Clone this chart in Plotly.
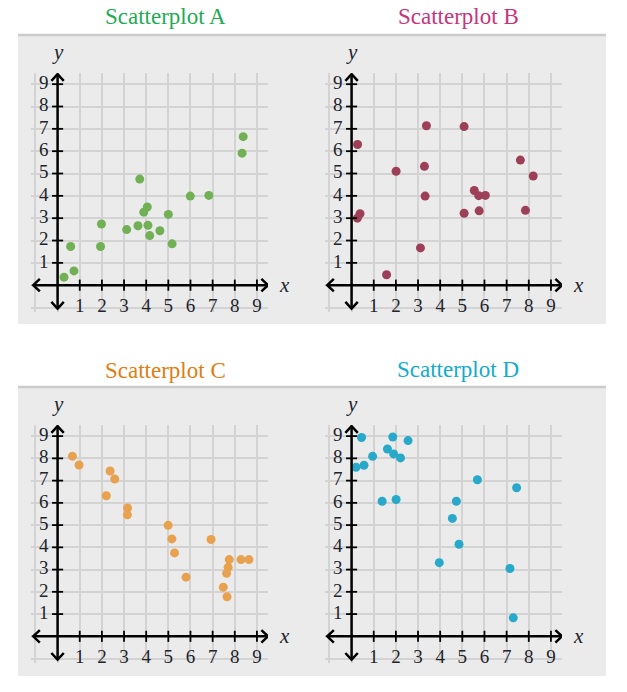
import plotly.graph_objects as go

# data
xa = [0.29, 0.59, 0.74, 1.98, 1.94, 3.12, 3.63, 3.71, 3.89, 4.05, 4.08, 4.16, 4.62, 5.0, 5.17, 5.99, 6.83, 8.38, 8.33]
ya = [0.36, 1.73, 0.64, 2.74, 1.73, 2.49, 2.66, 4.75, 3.27, 3.5, 2.68, 2.22, 2.44, 3.17, 1.85, 3.99, 4.02, 6.65, 5.91]

xb = [0.27, 0.26, 0.38, 1.58, 2.01, 3.11, 3.38, 3.29, 3.32, 5.08, 5.08, 5.54, 5.74, 6.04, 5.76, 7.62, 8.2, 7.85]
yb = [6.3, 3.0, 3.2, 0.47, 5.1, 1.67, 7.14, 5.32, 3.99, 7.1, 3.22, 4.24, 4.01, 4.02, 3.33, 5.6, 4.89, 3.35]

xc = [0.67, 0.97, 2.2, 2.37, 2.58, 3.16, 3.15, 4.99, 5.16, 5.28, 5.8, 6.93, 7.48, 7.65, 7.63, 7.7, 7.75, 8.28, 8.64]
yc = [8.1, 7.7, 6.32, 7.43, 7.07, 5.77, 5.46, 4.99, 4.38, 3.75, 2.66, 4.35, 2.21, 1.78, 2.83, 3.1, 3.45, 3.45, 3.45]

xd = [0.2, 0.45, 0.56, 0.95, 1.38, 1.62, 1.86, 1.9, 2.01, 2.21, 2.55, 3.96, 4.55, 4.73, 4.85, 5.68, 7.15, 7.3, 7.45]
yd = [7.6, 8.94, 7.69, 8.09, 6.07, 8.42, 8.96, 8.2, 6.15, 8.02, 8.8, 3.31, 5.3, 6.07, 4.14, 7.04, 3.05, 0.83, 6.68]

titles = ["Scatterplot A", "Scatterplot B", "Scatterplot C", "Scatterplot D"]
title_colors = ["#1fab54", "#ca337c", "#e07d10", "#11accd"]
dot_colors = ["#71b054", "#9d3f58", "#e8a24f", "#29a9c9"]
ticks = [1, 2, 3, 4, 5, 6, 7, 8, 9]

W, H = 627, 692
FONT = "Liberation Serif"
INK = "#21242c"
LO, HI = -1.2, 9.5

# plot areas in pixels (left, right, top, bottom)
boxes = [(31, 268, 73, 312), (325, 562, 73, 312), (31, 268, 425, 663), (325, 562, 425, 663)]
title_pos = [(165, 17), (458, 17), (165, 370), (458, 369)]

fig = go.Figure()
shapes = []
annotations = []


def frac(v):
    return (v - LO) / (HI - LO)


# grey panels with top rule
for top, bot in [(34, 324), (386, 676)]:
    shapes.append(dict(type="rect", xref="paper", yref="paper", layer="below",
                       x0=18 / W, x1=606 / W, y0=1 - bot / H, y1=1 - top / H,
                       fillcolor="#ebebeb", line_width=0))
    shapes.append(dict(type="line", xref="paper", yref="paper", layer="below",
                       x0=18 / W, x1=606 / W, y0=1 - (top + 1) / H, y1=1 - (top + 1) / H,
                       line=dict(color="#cccccc", width=2.5)))

series = [(xa, ya), (xb, yb), (xc, yc), (xd, yd)]
for i, (xs, ys) in enumerate(series):
    n = "" if i == 0 else str(i + 1)
    xr, yr = "x" + n, "y" + n
    l, r, t, b = boxes[i]
    ax = dict(domain=[l / W, r / W], range=[LO, HI], dtick=1, tick0=0,
              showgrid=True, gridcolor="#d3d3d3", gridwidth=2.2,
              zeroline=False, showticklabels=False, ticks="", fixedrange=True)
    fig.update_layout({"xaxis" + n: dict(ax, anchor=yr),
                       "yaxis" + n: dict(ax, domain=[1 - b / H, 1 - t / H], anchor=xr)})

    # axes with chevron arrows
    blk = dict(color="black", width=2.5)
    shapes.append(dict(type="line", xref=xr, yref=yr, x0=-1.1, x1=9.5, y0=0, y1=0, line=blk))
    shapes.append(dict(type="line", xref=xr, yref=yr, x0=0, x1=0, y0=-1.05, y1=9.45, line=blk))
    for p in ["M 9.2 0.28 L 9.5 0 L 9.2 -0.28", "M -0.8 0.28 L -1.1 0 L -0.8 -0.28",
              "M -0.28 9.15 L 0 9.45 L 0.28 9.15", "M -0.28 -0.75 L 0 -1.05 L 0.28 -0.75"]:
        shapes.append(dict(type="path", xref=xr, yref=yr, path=p, line=blk))
    for k in ticks:
        shapes.append(dict(type="line", xref=xr, yref=yr, x0=k, x1=k, y0=-0.25, y1=0.25,
                           line=dict(color="black", width=1.8)))
        shapes.append(dict(type="line", xref=xr, yref=yr, x0=-0.25, x1=0.25, y0=k, y1=k,
                           line=dict(color="black", width=1.8)))

    # tick labels
    fig.add_trace(go.Scatter(x=ticks, y=[-0.97] * len(ticks), mode="text",
                             text=[str(k) for k in ticks], cliponaxis=False,
                             textfont=dict(family=FONT, size=19, color=INK),
                             hoverinfo="skip", xaxis=xr, yaxis=yr, showlegend=False))
    fig.add_trace(go.Scatter(x=[-0.62] * len(ticks), y=ticks, mode="text",
                             text=[str(k) for k in ticks], cliponaxis=False,
                             textfont=dict(family=FONT, size=19, color=INK),
                             hoverinfo="skip", xaxis=xr, yaxis=yr, showlegend=False))

    # the points
    fig.add_trace(go.Scatter(x=xs, y=ys, mode="markers", xaxis=xr, yaxis=yr,
                             marker=dict(color=dot_colors[i], size=9), showlegend=False))

    annotations.append(dict(xref=xr + " domain", yref=yr + " domain", x=frac(10.25), y=frac(0),
                            xanchor="center", yanchor="middle",
                            text="<i>x</i>", showarrow=False,
                            font=dict(family=FONT, size=21, color=INK)))
    annotations.append(dict(xref=xr + " domain", yref=yr + " domain", x=frac(0.03), y=frac(10.45),
                            xanchor="center", yanchor="middle",
                            text="<i>y</i>", showarrow=False,
                            font=dict(family=FONT, size=21, color=INK)))
    tx, ty = title_pos[i]
    annotations.append(dict(xref="paper", yref="paper", x=tx / W, y=1 - ty / H, text=titles[i],
                            showarrow=False, xanchor="center", yanchor="middle",
                            font=dict(family=FONT, size=23, color=title_colors[i])))

fig.update_layout(width=W, height=H, margin=dict(l=0, r=0, t=0, b=0),
                  paper_bgcolor="white", plot_bgcolor="rgba(0,0,0,0)",
                  shapes=shapes, annotations=annotations, showlegend=False)

fig.write_html("out.html", config={"displayModeBar": False},
               post_script="document.body.style.margin='0';")
